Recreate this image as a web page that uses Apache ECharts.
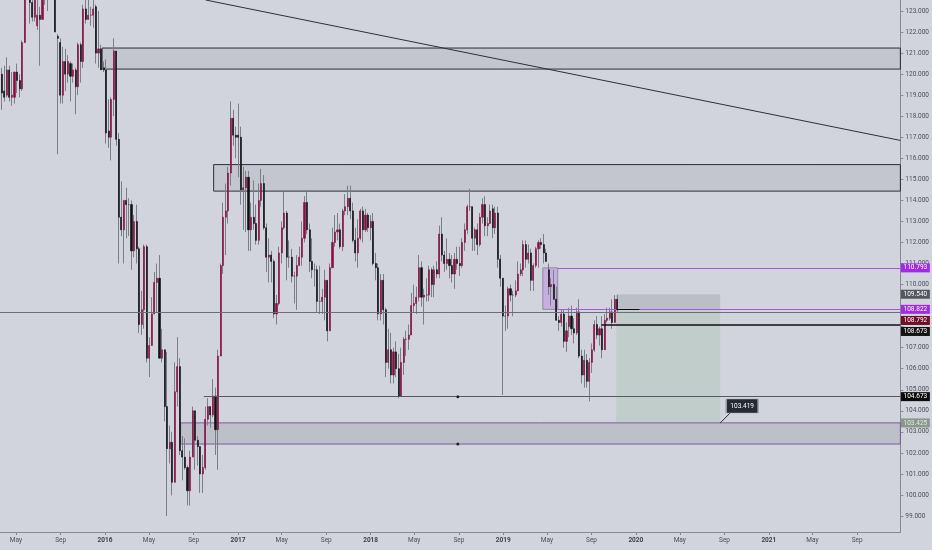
<!DOCTYPE html>
<html>
<head>
<meta charset="utf-8">
<script src="https://cdn.jsdelivr.net/npm/echarts@6/dist/echarts.min.js"></script>
<style>
html,body{margin:0;padding:0;background:#d1d4dc;}
#chart{width:932px;height:550px;}
</style>
</head>
<body>
<div id="chart"></div>
<script>
// ---- weekly USDJPY candles, first week starting Monday 2015-03-16 ----
const firstWeek = '2015-03-16';
const open = [
121.4,120.0,119.2,119.0,120.2,118.9,118.9,120.1,119.7,119.3,121.5,124.1,125.6,123.4,122.7,122.3,122.8,122.6,124.1,123.8,123.9,124.2,124.3,121.8,121.5,119.0,120.6,120.0,120.5,119.9,120.2,119.4,121.4,120.6,123.1,122.6,122.8,122.8,123.2,121.0,121.2,120.3,
120.2,117.3,117.0,118.8,121.1,116.9,113.2,112.6,114.0,113.8,113.8,111.6,113.0,111.7,108.1,108.8,111.8,106.5,107.1,108.6,110.1,110.3,106.5,106.9,104.2,102.2,102.5,100.6,104.9,106.1,102.1,101.8,101.3,100.2,101.8,104.0,102.6,102.3,101.0,101.3,103.6,104.2,103.8,104.7,103.1,106.6,110.9,113.2,113.5,115.3,117.9,117.1,
117.1,117.0,114.5,114.6,115.1,112.6,113.2,112.9,112.1,114.0,114.8,112.7,111.3,111.4,111.1,108.6,109.1,111.5,112.7,113.4,111.3,111.3,110.4,110.4,110.9,111.3,112.2,113.9,112.6,111.1,110.7,110.7,109.2,109.2,109.4,110.2,107.8,110.8,112.0,112.5,112.6,111.8,113.5,113.7,114.1,113.5,112.1,111.5,112.2,113.5,112.6,113.3,
112.7,113.0,111.0,110.8,108.6,110.2,108.8,106.3,106.9,105.7,106.8,106.0,104.7,106.3,107.4,107.4,107.6,109.0,109.1,109.4,110.8,109.4,109.5,109.5,110.7,110.0,110.7,110.5,112.4,111.4,111.0,111.2,110.9,110.5,111.2,111.0,110.9,112.0,112.6,113.7,113.7,112.2,112.6,111.9,113.2,113.8,112.8,112.9,113.6,112.7,113.4,111.2,110.3,
108.5,108.5,109.8,109.5,109.5,109.7,110.5,110.7,111.9,111.2,111.5,110.2,110.9,111.7,112.0,111.9,111.5,110.7,109.9,110.0,109.3,108.3,108.2,108.6,107.3,108.0,108.5,107.9,107.7,108.7,106.6,105.7,106.4,105.4,106.3,106.9,108.1,107.6,107.9,106.9,108.3,108.4,108.7,108.2,109.3
];
const high = [
121.5,120.3,120.4,120.8,120.4,120.1,120.1,120.5,120.0,121.6,124.5,125.9,125.7,123.9,124.4,123.7,123.2,124.5,124.6,124.6,125.1,125.3,124.6,121.9,121.7,121.3,121.2,120.9,120.6,120.5,120.3,121.5,121.5,123.3,123.6,123.8,123.2,123.7,123.3,123.0,121.4,120.6,
120.7,118.8,118.9,121.7,121.1,117.2,114.9,114.0,114.6,114.1,114.0,113.3,113.8,111.8,109.7,111.9,111.9,107.5,109.4,110.6,111.0,111.4,107.9,106.9,106.8,103.3,103.0,106.3,107.5,106.5,102.8,102.7,101.4,102.1,104.2,104.0,102.8,102.3,101.9,104.2,104.6,104.2,105.5,105.1,106.9,111.0,113.9,114.8,115.6,118.7,118.3,117.5,
118.6,117.5,115.6,115.4,115.4,113.9,114.95,113.8,114.8,115.5,115.2,112.9,112.2,111.6,111.2,109.5,111.8,113.0,114.4,113.5,112.1,111.7,110.6,111.4,111.8,113.0,114.2,114.5,112.9,112.2,111.0,110.9,110.9,109.8,110.7,110.2,111.0,112.7,113.3,113.4,112.9,113.6,114.3,114.7,114.7,113.9,112.7,113.1,113.6,113.7,113.6,113.4,
113.3,113.4,111.5,111.0,110.5,110.5,108.9,107.9,107.7,107.0,107.3,106.7,107.0,107.5,107.8,108.1,109.6,110.0,109.9,111.4,111.1,109.8,110.3,110.9,110.8,110.9,111.1,112.8,113.2,111.6,112.2,111.5,111.4,111.5,111.8,111.8,112.2,112.9,113.8,114.55,113.7,112.7,112.9,113.4,114.1,114.2,113.2,113.8,113.8,113.7,113.7,111.4,110.3,
109.0,109.9,110.0,109.7,110.2,111.1,111.0,112.1,112.1,111.9,111.7,111.0,111.8,112.1,112.2,112.4,111.7,111.0,110.3,110.7,109.9,108.5,108.8,108.8,108.2,108.9,109.0,108.4,108.9,109.3,106.9,106.9,106.7,106.5,107.2,108.3,108.5,108.0,108.5,108.6,108.9,108.9,109.3,109.5,109.5
];
const low = [
119.3,118.3,118.7,118.9,118.7,118.5,118.6,119.1,118.9,119.2,121.5,123.7,122.4,122.5,122.5,122.1,120.4,122.6,123.3,123.0,123.8,123.8,122.0,116.2,118.6,118.6,119.2,119.6,118.7,119.6,118.1,119.0,119.6,120.3,122.4,122.6,122.3,122.2,120.5,120.3,120.2,120.1,
116.7,116.5,115.9,118.0,116.6,111.0,112.3,111.0,112.2,112.3,110.7,111.3,111.0,107.7,107.6,107.9,106.3,105.6,107.1,108.6,108.7,106.5,106.3,103.5,99.0,101.5,99.98,100.6,104.2,101.9,100.7,101.2,99.5,99.5,101.8,101.2,101.4,100.1,100.1,101.2,103.3,103.2,103.7,101.9,101.2,106.6,110.5,111.4,112.9,114.7,116.6,116.0,
115.1,113.8,112.6,112.5,111.6,111.6,112.6,111.9,111.9,113.7,112.6,110.6,110.1,110.1,108.4,108.1,109.0,111.0,112.6,110.2,110.8,110.1,109.1,108.8,110.9,110.9,112.0,112.4,110.6,110.3,109.9,108.7,108.6,108.6,108.3,107.3,107.8,110.8,111.8,112.1,111.7,111.6,113.3,113.3,113.1,112.0,111.1,110.8,112.1,112.0,112.5,112.5,
112.1,110.9,110.2,108.3,108.3,108.1,105.6,106.0,105.3,105.3,105.6,104.6,104.7,105.7,106.6,106.9,107.6,108.7,108.6,109.2,108.95,108.1,109.2,109.2,109.4,109.4,110.3,110.3,111.1,110.6,110.7,110.3,110.1,109.8,110.7,110.4,110.8,111.6,112.4,113.5,111.6,111.6,111.4,111.8,112.9,112.3,112.3,112.9,112.2,112.4,110.8,109.9,104.75,
107.8,107.9,109.2,108.5,109.4,109.7,110.4,110.4,110.8,111.0,109.7,109.7,110.8,110.8,111.7,111.0,111.1,109.5,109.0,109.3,108.3,107.8,108.0,107.0,106.8,107.5,107.6,107.2,107.6,106.5,105.3,105.1,105.1,104.45,105.8,106.8,107.4,107.1,106.5,106.9,108.2,108.3,107.9,108.2,108.7
];
const close = [
120.0,119.1,118.9,120.2,118.9,119.0,120.1,119.7,119.3,121.5,124.1,125.6,123.4,122.7,123.9,122.8,122.6,124.1,123.8,123.9,124.2,124.3,122.0,121.7,119.0,120.6,120.0,120.6,119.9,120.2,119.4,121.4,120.6,123.1,122.6,122.8,122.8,123.1,121.0,121.2,120.2,120.2,
117.2,117.0,118.8,121.1,116.9,113.2,112.6,114.0,113.8,113.8,111.6,113.0,111.7,108.1,108.8,111.8,106.5,107.1,108.6,110.1,110.3,106.5,106.9,104.2,102.2,102.5,100.6,104.9,106.1,102.1,101.8,101.3,100.2,101.8,104.0,102.6,102.3,101.0,101.3,103.6,104.2,103.8,104.7,103.1,106.6,110.9,113.2,113.5,115.3,117.9,117.1,117.0,
117.0,114.5,114.6,115.1,112.6,113.2,112.9,112.1,114.0,114.8,112.7,111.3,111.4,111.1,108.6,109.1,111.5,112.7,113.4,111.3,111.3,110.4,110.4,110.9,111.3,112.2,113.9,112.6,111.1,110.7,110.7,109.2,109.2,109.4,110.2,107.8,110.8,112.0,112.5,112.6,111.8,113.5,113.7,114.1,113.5,112.1,111.5,112.2,113.5,112.6,113.3,112.7,
113.0,111.0,110.8,108.6,110.2,108.8,106.3,106.9,105.7,106.8,106.0,104.7,106.3,107.4,107.4,107.6,109.0,109.1,109.4,110.8,109.4,109.5,109.5,110.7,110.0,110.7,110.5,112.4,111.4,111.0,111.2,110.9,110.5,111.2,111.0,110.9,112.0,112.6,113.7,113.7,112.2,112.6,111.9,113.2,113.8,112.8,112.9,113.5,112.7,113.4,111.2,110.3,108.5,
108.5,109.8,109.5,109.5,109.7,110.5,110.7,111.9,111.2,111.5,110.2,110.9,111.7,112.0,111.9,111.5,111.1,109.9,110.0,109.3,108.3,108.2,108.6,107.3,107.8,108.5,107.9,107.7,108.7,106.6,105.7,106.4,105.4,106.3,106.9,108.1,107.6,107.9,106.9,108.3,108.4,108.7,108.2,109.3,108.79
];

// ---- axis ticks ----
const yLabelValues = [99,100,101,102,103,104,105,106,107,110,111,112,113,114,115,116,117,118,119,120,121,122,123];
const yTickValues  = [99,100,101,102,103,104,105,106,107,108,109,110,111,112,113,114,115,116,117,118,119,120,121,122,123];
const xTickDates = ['2015-05-01','2015-09-01','2016-01-01','2016-05-01','2016-09-01','2017-01-01','2017-05-01','2017-09-01',
  '2018-01-01','2018-05-01','2018-09-01','2019-01-01','2019-05-01','2019-09-01','2020-01-01','2020-05-01','2020-09-01',
  '2021-01-01','2021-05-01','2021-09-01'];
const monthNames = ['Jan','Feb','Mar','Apr','May','Jun','Jul','Aug','Sep','Oct','Nov','Dec'];
const xRange = ['2015-03-18','2021-12-29'];
const yRange = [98.24, 123.523];

// ---- drawings (price levels) ----
const trendLine = [['2016-10-04', 123.523], ['2021-12-29', 116.85]];
const zoneTop = {from:'2015-12-24', hi:121.24, lo:120.24};
const zoneMid = {from:'2016-10-26', hi:115.70, lo:114.44};
const zoneLow = {from:'2016-07-27', hi:103.425, lo:102.42};
const purpleBox = {from:'2019-04-20', to:'2019-05-31', hi:110.793, lo:108.822};
const position = {from:'2019-11-08', to:'2020-08-20', stop:109.540, entry:108.822, target:103.425};
const levelFull = 108.673;
const levelSupport = {from:'2016-09-29', value:104.673};
const levelBlack = {from:'2019-09-28', value:108.11};
const entryTick = {from:'2019-11-08', to:'2020-01-11', value:108.822};
const midDots = {date:'2018-08-29', values:[104.673, 102.42]};
const callout = {date:'2020-08-20', value:103.419, tip:['2020-09-19', 103.94]};
const priceTags = [
  {value:110.793, bg:'#a12be3', fg:'#ffffff', dy:0},
  {value:109.540, bg:'#55575f', fg:'#ffffff', dy:0},
  {value:108.822, bg:'#a12be3', fg:'#ffffff', dy:0},
  {value:108.792, bg:'#6e1026', fg:'#ffffff', dy:10.5},
  {value:108.673, bg:'#131313', fg:'#ffffff', dy:19},
  {value:104.673, bg:'#0c0c0c', fg:'#ffffff', dy:0},
  {value:103.425, bg:'#8c958e', fg:'#d9f2dc', dy:0}
];

// ---- build ----
const T = s => { const p = s.split('-').map(Number); return Date.UTC(p[0], p[1]-1, p[2]); };
const t0 = T(firstWeek);
const WEEK = 7 * 86400000;
const wickData = open.map((o, i) => [t0 + i*WEEK, o, close[i], low[i], high[i]]);
const bodyData = open.map((o, i) => [t0 + i*WEEK, o, close[i], Math.min(o, close[i]), Math.max(o, close[i])]);
const xMin = T(xRange[0]);
const xMax = T(xRange[1]);
const D = s => T(s);
const FONT = 'Roboto';

function area(from, to, hi, lo, style) {
  return [{coord:[from, hi], itemStyle:style}, {coord:[to, lo]}];
}
function hline(from, to, v, style) {
  return [{coord:[from, v], lineStyle:style}, {coord:[to, v]}];
}

const chart = echarts.init(document.getElementById('chart'));
chart.setOption({
  backgroundColor:'#d1d4dc',
  animation:false,
  grid:{left:0, right:29, top:0, bottom:18, containLabel:false},
  xAxis:{
    type:'value', min:xMin, max:xMax, scale:true,
    axisLine:{show:true, lineStyle:{color:'#868993', width:1}},
    axisTick:{show:true, length:3, customValues:xTickDates.map(T), lineStyle:{color:'#868993'}},
    axisLabel:{
      customValues:xTickDates.map(T), margin:5, fontSize:6.5, fontFamily:FONT, color:'#4c4f59',
      formatter:(v) => { const d = new Date(v); const m = d.getUTCMonth();
        return m === 0 ? '{y|' + d.getUTCFullYear() + '}' : monthNames[m]; },
      rich:{y:{fontSize:6.5, fontWeight:'bold', fontFamily:FONT, color:'#3d404a'}}
    },
    splitLine:{show:false}
  },
  yAxis:{
    type:'value', position:'right', min:yRange[0], max:yRange[1], scale:true,
    axisLine:{show:true, lineStyle:{color:'#868993', width:1}},
    axisTick:{show:true, length:3, customValues:yTickValues, lineStyle:{color:'#868993'}},
    axisLabel:{customValues:yLabelValues, margin:5, fontSize:6.5, fontFamily:FONT, color:'#4c4f59',
      formatter:(v) => Number(v).toFixed(3)},
    splitLine:{show:false}
  },
  series:[
    {
      type:'candlestick', name:'wick', clip:true, barWidth:1,
      encode:{x:0, y:[1,2,3,4]},
      itemStyle:{color:'#7c7f8a', color0:'#7c7f8a', borderColor:'#7c7f8a', borderColor0:'#7c7f8a', borderWidth:1},
      data:wickData,
      markArea:{
        silent:true,
        data:[
          area(D(zoneTop.from), xMax, zoneTop.hi, zoneTop.lo, {color:'rgba(110,114,126,0.14)', borderColor:'#2e3038', borderWidth:1}),
          area(D(zoneMid.from), xMax, zoneMid.hi, zoneMid.lo, {color:'rgba(110,114,126,0.14)', borderColor:'#2e3038', borderWidth:1}),
          area(D(zoneLow.from), xMax, zoneLow.hi, zoneLow.lo, {color:'rgba(110,114,126,0.20)', borderColor:'#7a5a9e', borderWidth:1}),
          area(D(purpleBox.from), D(purpleBox.to), purpleBox.hi, purpleBox.lo, {color:'rgba(170,60,240,0.25)', borderColor:'#8f8a9e', borderWidth:1}),
          area(D(position.from), D(position.to), position.stop, position.entry, {color:'rgba(110,114,126,0.22)'}),
          area(D(position.from), D(position.to), position.entry, position.target, {color:'rgba(110,170,110,0.16)'})
        ]
      },
      markLine:{
        silent:true, symbol:['none','none'], label:{show:false},
        data:[
          [{coord:[D(trendLine[0][0]), trendLine[0][1]], lineStyle:{color:'#2e3038', width:1, type:'solid'}}, {coord:[D(trendLine[1][0]), trendLine[1][1]]}],
          hline(xMin, xMax, levelFull, {color:'#6b6e78', width:1, type:'solid'}),
          hline(D(levelSupport.from), xMax, levelSupport.value, {color:'#55585f', width:1, type:'solid'}),
          hline(D(purpleBox.to), xMax, purpleBox.hi, {color:'#a35ae0', width:1, type:'solid'}),
          hline(D(purpleBox.to), xMax, purpleBox.lo, {color:'#a35ae0', width:1, type:'solid'}),
          hline(D(levelBlack.from), xMax, levelBlack.value, {color:'#101010', width:1.5, type:'solid'}),
          hline(D(entryTick.from), D(entryTick.to), entryTick.value, {color:'#101010', width:1, type:'solid'}),
          [{coord:[D(callout.date), callout.value], lineStyle:{color:'#2b2f3a', width:1, type:'solid'}}, {coord:[D(callout.tip[0]), callout.tip[1]]}]
        ]
      }
    },
    {
      type:'candlestick', name:'body', clip:true, barWidth:1.6,
      encode:{x:0, y:[1,2,3,4]},
      itemStyle:{color:'#8a1043', color0:'#111114', borderColor:'#8a1043', borderColor0:'#111114', borderWidth:0.6},
      data:bodyData
    },
    {
      type:'line', name:'tags', clip:false, data:[], silent:true,
      markPoint:{
        silent:true,
        data: priceTags.map(p => ({
          coord:[xMax, p.value], symbol:'rect', symbolSize:[29, 9], symbolOffset:[15, p.dy],
          itemStyle:{color:p.bg},
          label:{show:true, position:'inside', formatter:p.value.toFixed(3), color:p.fg, fontSize:6.5, fontFamily:FONT}
        })).concat(
          midDots.values.map(v => ({coord:[D(midDots.date), v], symbol:'circle', symbolSize:3, itemStyle:{color:'#222'}, label:{show:false}})),
          [{coord:[D(callout.date), callout.value], symbol:'rect', symbolSize:[32, 14], symbolOffset:[22, -17],
            itemStyle:{color:'#262a34', borderColor:'#a3a6ae', borderWidth:1},
            label:{show:true, position:'inside', formatter:callout.value.toFixed(3), color:'#ffffff', fontSize:6.5, fontFamily:FONT}}]
        )
      }
    }
  ]
});
</script>
</body>
</html>
